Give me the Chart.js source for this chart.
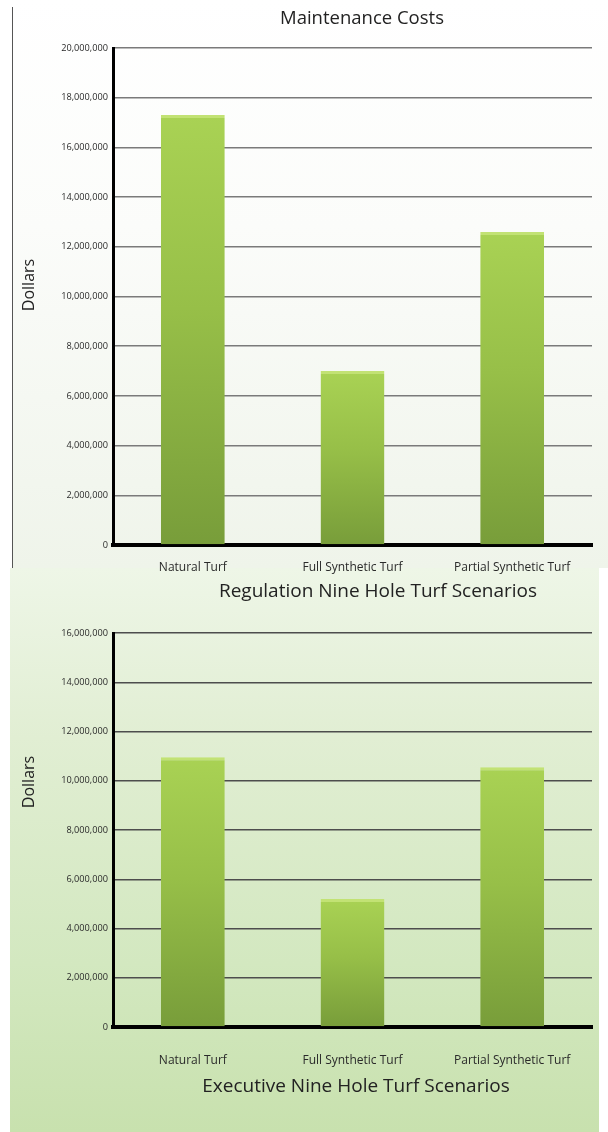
<!DOCTYPE html>
<html>
<head>
<meta charset="utf-8">
<script src="https://cdn.jsdelivr.net/npm/chart.js@4"></script>
<style>
  html, body { margin: 0; padding: 0; background: #fff; }
  body { width: 608px; height: 1132px; position: relative; overflow: hidden; }
  #topPanel { position: absolute; left: 12px; top: 0; width: 596px; height: 568px;
    background: linear-gradient(#ffffff 0%, #fbfcfa 40%, #eff4ea 100%); }
  #topLine { position: absolute; left: 12px; top: 7px; width: 1px; height: 561px; background: #555; }
  #bottomPanel { position: absolute; left: 10px; top: 568px; width: 589px; height: 564px;
    background: linear-gradient(#eef6e7 0%, #e1eed3 30%, #d3e8c0 70%, #c8e1ae 100%); }
  canvas { position: absolute; left: 0; }
  #c1 { top: 0; }
  #c2 { top: 610px; }
</style>
</head>
<body>
<div id="topPanel"></div>
<div id="topLine"></div>
<div id="bottomPanel"></div>
<canvas id="c1" width="608" height="610"></canvas>
<canvas id="c2" width="608" height="522"></canvas>
<script>
var categories = ['Natural Turf', 'Full Synthetic Turf', 'Partial Synthetic Turf'];
var regulationCosts = [17300000, 7000000, 12600000];
var executiveCosts = [10950000, 5200000, 10550000];
var regulationTicks = { max: 20000000, step: 2000000 };
var executiveTicks = { max: 16000000, step: 2000000 };

var FONT = '"Open Sans", "DejaVu Sans", sans-serif';

// texts drawn at fixed spots (titles and axis names)
var captions = {
    id: 'captions',
    afterDraw: function (chart, args, opts) {
        var ctx = chart.ctx;
        (opts.items || []).forEach(function (c) {
            ctx.save();
            ctx.translate(c.x, c.y);
            if (c.rotate) ctx.rotate(c.rotate);
            ctx.font = c.size + 'px ' + FONT;
            ctx.fillStyle = '#222';
            ctx.textAlign = 'center';
            ctx.textBaseline = 'middle';
            ctx.fillText(c.text, 0, 0);
            ctx.restore();
        });
    }
};

function barFill(context) {
    var chart = context.chart;
    if (!chart.chartArea || context.parsed == null) return '#93bd47';
    var y = chart.scales.y;
    var top = y.getPixelForValue(context.parsed.y);
    var base = y.getPixelForValue(0);
    var g = chart.ctx.createLinearGradient(0, top, 0, base);
    g.addColorStop(0, '#a9d254');
    g.addColorStop(0.45, '#97bf48');
    g.addColorStop(1, '#789d3a');
    return g;
}

function makeChart(canvas, values, tickCfg, opt) {
    return new Chart(canvas, {
        type: 'bar',
        data: {
            labels: categories,
            datasets: [{
                data: values,
                backgroundColor: barFill,
                borderColor: '#c2e274',
                borderWidth: { top: 3, left: 0, right: 0, bottom: 0 },
                borderSkipped: false,
                barPercentage: 0.4,
                categoryPercentage: 1
            }]
        },
        options: {
            responsive: false,
            animation: false,
            layout: { padding: { top: opt.padTop, right: 16, left: 0, bottom: 0 } },
            plugins: {
                legend: { display: false },
                tooltip: { enabled: false },
                captions: { items: opt.captions }
            },
            scales: {
                y: {
                    min: 0,
                    max: tickCfg.max,
                    afterFit: function (s) { s.width = 113; },
                    ticks: {
                        stepSize: tickCfg.step,
                        padding: 5,
                        color: '#2a2a2a',
                        font: { family: FONT, size: 9.2 },
                        callback: function (v) { return Number(v).toLocaleString('en-US'); }
                    },
                    grid: { color: opt.gridColor, lineWidth: 1.5, drawTicks: false },
                    border: { color: '#000', width: 3 }
                },
                x: {
                    afterFit: function (s) { s.height = opt.xHeight; },
                    ticks: {
                        padding: opt.labelPad,
                        color: '#2a2a2a',
                        font: { family: FONT, size: 12 }
                    },
                    grid: { display: false },
                    border: { color: '#000', width: 4 }
                }
            }
        },
        plugins: [captions]
    });
}

makeChart(document.getElementById('c1'), regulationCosts, regulationTicks, {
    padTop: 48, xHeight: 65, labelPad: 7, gridColor: '#7a7a7a',
    captions: [
        { text: 'Maintenance Costs', x: 362, y: 19, size: 18.5 },
        { text: 'Regulation Nine Hole Turf Scenarios', x: 378, y: 592, size: 19 },
        { text: 'Dollars', x: 29, y: 285, size: 16, rotate: -Math.PI / 2 }
    ]
});

makeChart(document.getElementById('c2'), executiveCosts, executiveTicks, {
    padTop: 23, xHeight: 105, labelPad: 18, gridColor: '#4d4d4d',
    captions: [
        { text: 'Executive Nine Hole Turf Scenarios', x: 356, y: 477, size: 19 },
        { text: 'Dollars', x: 29, y: 172, size: 16, rotate: -Math.PI / 2 }
    ]
});
</script>
</body>
</html>
